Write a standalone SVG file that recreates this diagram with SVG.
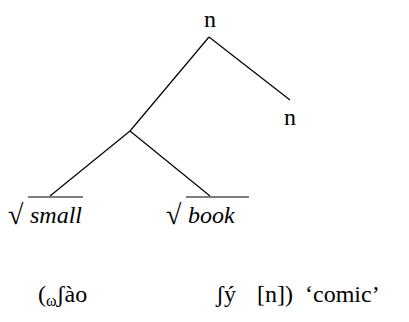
<svg xmlns="http://www.w3.org/2000/svg" width="409" height="322" viewBox="0 0 409 322">
<rect width="409" height="322" fill="#fff"/>
<g id="connectors" stroke="#000" stroke-width="1.2">
<line x1="209" y1="37" x2="130" y2="131"/>
<line x1="209" y1="37" x2="290" y2="100"/>
<line x1="130" y1="131" x2="50" y2="196"/>
<line x1="130" y1="131" x2="210" y2="196"/>
</g>
<g id="n-root"><text font-family="Liberation Serif" font-size="24" text-anchor="middle" x="210" y="27">n</text></g>
<g id="n-right"><text font-family="Liberation Serif" font-size="24" text-anchor="middle" x="290" y="125">n</text></g>
<g id="root-small"><text font-family="Liberation Serif" font-size="28" x="8" y="224">&#8730;</text><line stroke="#000" stroke-width="1.2" x1="28" y1="197" x2="83" y2="197"/><text font-family="Liberation Serif" font-size="24" font-style="italic" x="30" y="223">small</text></g>
<g id="root-book"><text font-family="Liberation Serif" font-size="28" x="166" y="224">&#8730;</text><line stroke="#000" stroke-width="1.2" x1="186" y1="197" x2="249" y2="197"/><text font-family="Liberation Serif" font-size="24" font-style="italic" x="188" y="223">book</text></g>
<g id="gloss">
<text font-family="Liberation Serif" font-size="24" x="38" y="302">(<tspan font-size="16" dy="4">&#969;</tspan><tspan dy="-4">&#643;&#224;o</tspan></text>
<text font-family="Liberation Serif" font-size="24" x="216" y="302">&#643;&#253;</text>
<text font-family="Liberation Serif" font-size="24" x="257" y="302">[n])</text>
<text font-family="Liberation Serif" font-size="24" x="305" y="302">&#8216;comic&#8217;</text>
</g>
</svg>
